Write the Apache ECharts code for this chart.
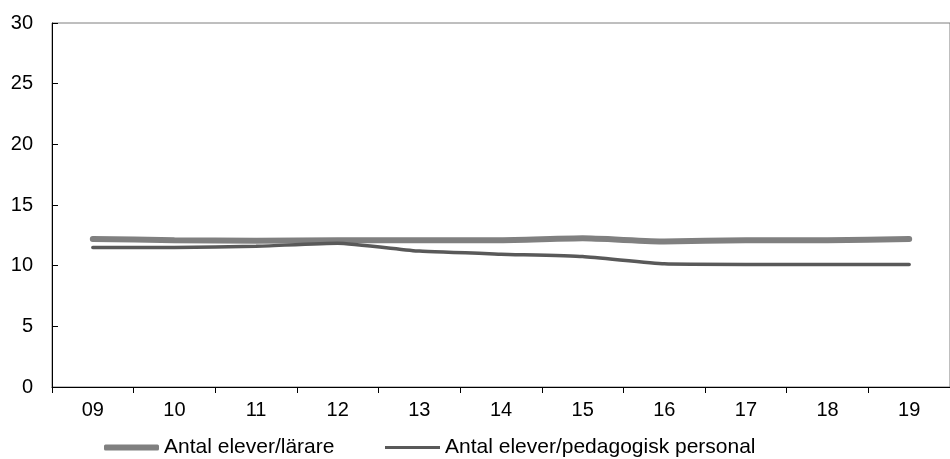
<!DOCTYPE html>
<html><head><meta charset="utf-8">
<script src="https://cdn.jsdelivr.net/npm/echarts@6/dist/echarts.min.js"></script>
<style>html,body{margin:0;padding:0;background:#fff}#c{width:950px;height:459px}</style>
</head><body><div id="c"></div>
<script>
var categories = ['09','10','11','12','13','14','15','16','17','18','19'];
var larare = [12.2, 12.1, 12.05, 12.1, 12.1, 12.1, 12.25, 12.0, 12.1, 12.1, 12.2];
var pedagogisk = [11.5, 11.5, 11.6, 11.85, 11.2, 10.95, 10.75, 10.15, 10.1, 10.1, 10.1];
var yTicks = [0, 5, 10, 15, 20, 25, 30];
var seriesNames = ['Antal elever/lärare', 'Antal elever/pedagogisk personal'];

var chart = echarts.init(document.getElementById('c'), null, {renderer: 'canvas'});
var font = 'Liberation Sans, Arial, sans-serif';
var legendText = {fontSize: 21, color: '#000', fontFamily: font};
chart.setOption({
  animation: false,
  textStyle: {fontFamily: font},
  grid: {left: 52, top: 23, width: 908, bottom: 72, show: true, borderColor: '#7f7f7f', borderWidth: 1, backgroundColor: 'transparent'},
  legend: [
    {top: 437, left: 104, padding: 0, itemWidth: 55, itemHeight: 6, icon: 'roundRect',
     textStyle: legendText, data: [seriesNames[0]], selectedMode: false},
    {top: 437, left: 385, padding: 0, itemWidth: 55, itemHeight: 3, icon: 'rect',
     textStyle: legendText, data: [seriesNames[1]], selectedMode: false}
  ],
  xAxis: {
    type: 'category', data: categories, boundaryGap: true,
    axisLine: {lineStyle: {color: '#000', width: 1}},
    axisTick: {show: true, length: 6, lineStyle: {color: '#000'}},
    axisLabel: {fontSize: 20, color: '#000', margin: 13, fontFamily: font},
    splitLine: {show: false}
  },
  yAxis: {
    type: 'value', min: yTicks[0], max: yTicks[yTicks.length-1], interval: 5,
    axisLine: {show: true, lineStyle: {color: '#000', width: 1}},
    axisTick: {show: true, inside: true, length: 6, lineStyle: {color: '#000'}},
    axisLabel: {fontSize: 20, color: '#000', margin: 19, fontFamily: font},
    splitLine: {show: false}
  },
  series: [
    {name: seriesNames[0], type: 'line', data: larare, symbol: 'none', smooth: 0.15,
     lineStyle: {color: '#808080', width: 6, cap: 'round'}, itemStyle: {color: '#808080'}},
    {name: seriesNames[1], type: 'line', data: pedagogisk, symbol: 'none', smooth: 0.15,
     lineStyle: {color: '#595959', width: 3.5, cap: 'round'}, itemStyle: {color: '#595959'}}
  ]
});
</script></body></html>
